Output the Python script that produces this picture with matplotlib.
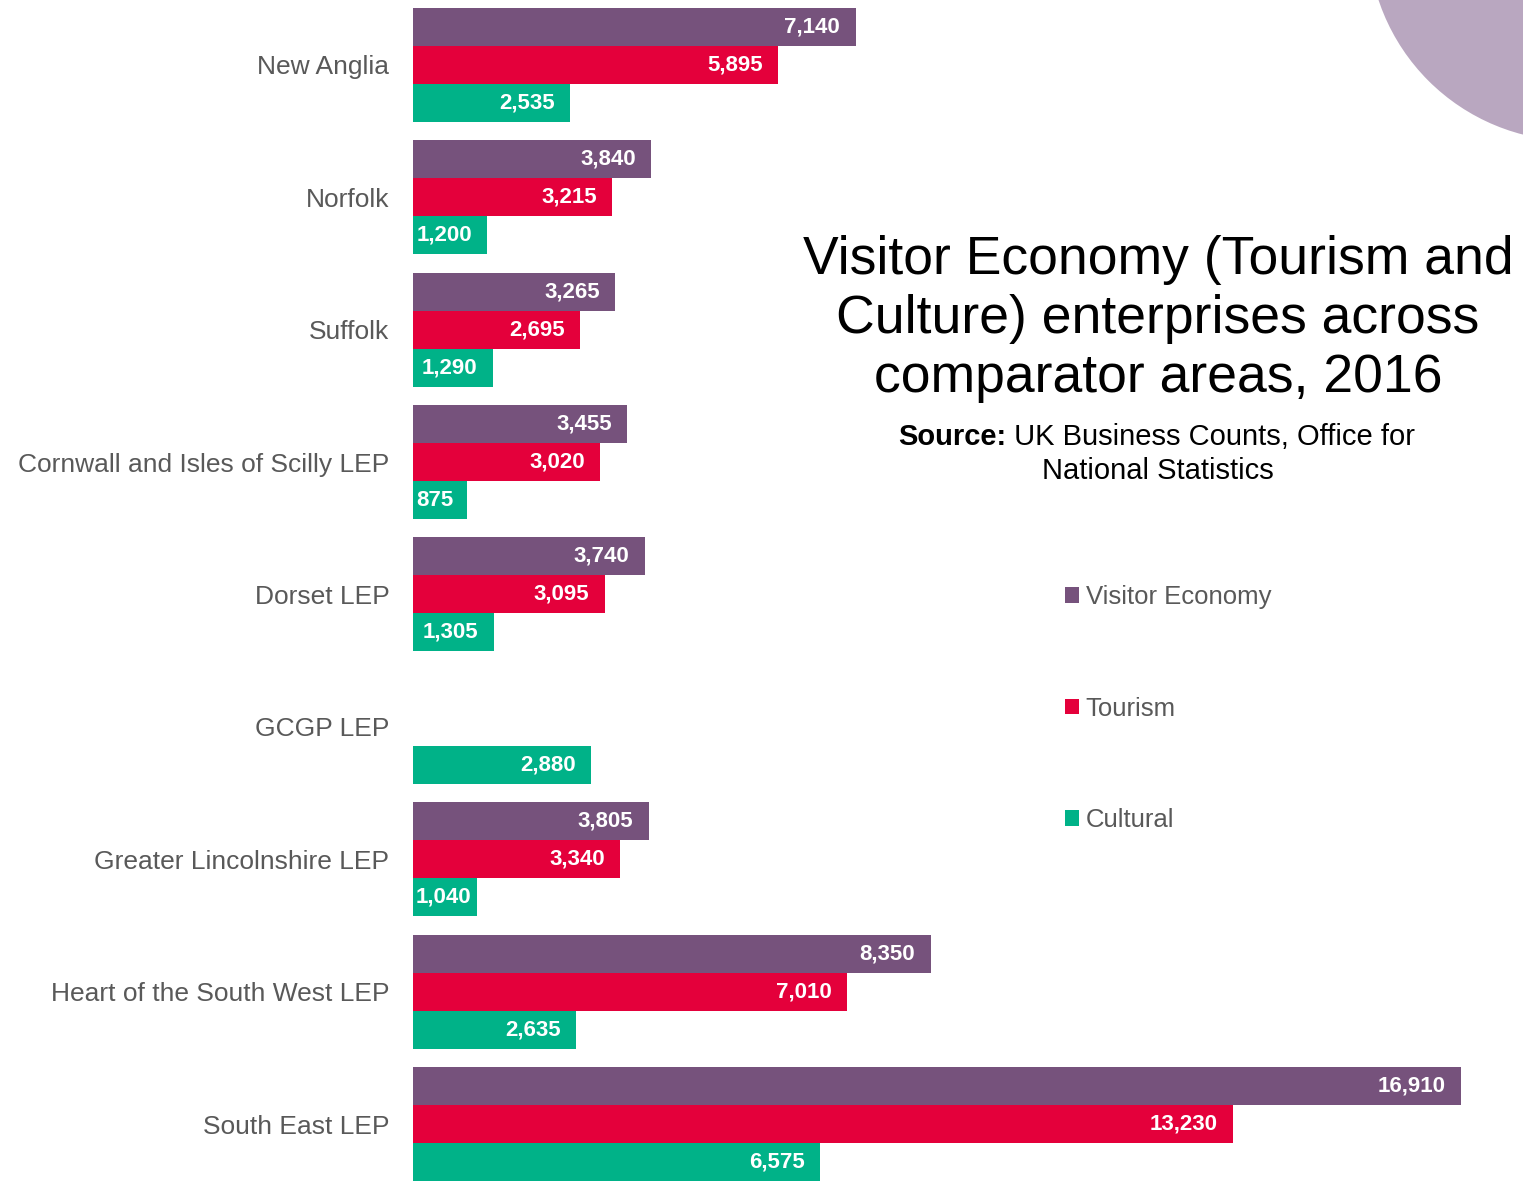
import numpy as np
import matplotlib
matplotlib.use("Agg")
import matplotlib.pyplot as plt
from matplotlib.patches import Circle, Patch

plt.rcParams['font.family'] = ['Liberation Sans', 'DejaVu Sans']

# data
areas = ["New Anglia", "Norfolk", "Suffolk", "Cornwall and Isles of Scilly LEP",
         "Dorset LEP", "GCGP LEP", "Greater Lincolnshire LEP",
         "Heart of the South West LEP", "South East LEP"]
visitor_economy = [7140, 3840, 3265, 3455, 3740, np.nan, 3805, 8350, 16910]
tourism = [5895, 3215, 2695, 3020, 3095, np.nan, 3340, 7010, 13230]
cultural = [2535, 1200, 1290, 875, 1305, 2880, 1040, 2635, 6575]
series_names = ["Visitor Economy", "Tourism", "Cultural"]
colors = ["#76527C", "#E4003B", "#00B288"]

fig = plt.figure(figsize=(15.23, 11.81), dpi=100)
ax = fig.add_axes([413 / 1523, 0.0, 1 - 413 / 1523 - 0.035, 1.0])

y = np.arange(len(areas))
h = 0.287
labels = []
for k, (vals, col) in enumerate(zip([visitor_economy, tourism, cultural], colors)):
    pos = y + (k - 1) * h
    ax.barh(pos, vals, height=h, color=col, edgecolor="none")
    for p, v in zip(pos, vals):
        if np.isnan(v):
            continue
        t = ax.annotate(f"{v:,.0f}", xy=(v, p), xytext=(-11, 0), textcoords="offset points",
                        ha="right", va="center", color="white", fontsize=16, fontweight="bold")
        labels.append((t, v))

ax.set_xlim(0, 17050)
ax.set_ylim(8.43, -0.49)
ax.set_yticks(y)
ax.set_yticklabels(areas, fontsize=19, color="#595959")
ax.tick_params(axis="y", length=0, pad=17)
ax.set_xticks([])
for s in ax.spines.values():
    s.set_visible(False)

# pull labels of short bars closer to the bar end so they stay inside
fig.canvas.draw()
x0 = ax.transData.transform((0, 0))[0]
for t, v in labels:
    w = t.get_window_extent().width
    bar_px = ax.transData.transform((v, 0))[0] - x0
    pad_px = 11 * 100 / 72
    if w + pad_px + 3 > bar_px:
        pad_px = max(bar_px - w - 3, 0)
        t.set_position((-pad_px * 72 / 100, 0))

# title and source
fig.text(1158 / 1523, 1 - 319 / 1181, "Visitor Economy (Tourism and\nCulture) enterprises across\ncomparator areas, 2016",
         ha="center", va="center", fontsize=38.5, linespacing=1.24, color="black")
src = fig.text(898 / 1523, 1 - 437 / 1181, "Source:", ha="left", va="center",
               fontsize=21, fontweight="bold", color="black")
fig.text(1158 / 1523, 1 - 471 / 1181, "National Statistics", ha="center", va="center",
         fontsize=21, color="black")
ax.annotate(" UK Business Counts, Office for", xy=(1, 0.5), xycoords=src,
            ha="left", va="center", fontsize=21, color="black")

# legend
handles = [Patch(facecolor=c, edgecolor="none") for c in colors]
leg = fig.legend(handles, series_names, loc="upper left",
                 bbox_to_anchor=(1055 / 1523, 1 - 575 / 1181), frameon=False,
                 fontsize=18.5, labelspacing=3.4, handlelength=0.55, handleheight=0.55,
                 handletextpad=0.25, borderaxespad=0)
for t in leg.get_texts():
    t.set_color("#595959")

# decorative circle in the corner
circ = Circle((15.74, 12.46), 2.06, transform=fig.dpi_scale_trans,
              facecolor="#B9A7C0", edgecolor="none")
fig.add_artist(circ)

fig.savefig("out.png", dpi=100)
